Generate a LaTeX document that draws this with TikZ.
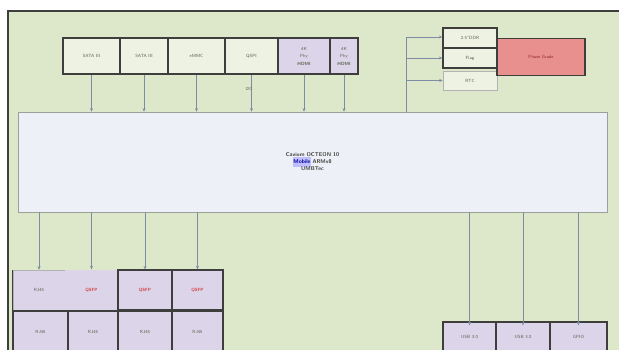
\documentclass[tikz,border=0pt]{standalone}
\usetikzlibrary{arrows.meta}
\definecolor{bggreen}{HTML}{DDE7CA}
\definecolor{cellg}{HTML}{EEF2E2}
\definecolor{cellp}{HTML}{DCD5EA}
\definecolor{cpufill}{HTML}{EEF0F7}
\definecolor{redbox}{HTML}{E8908E}
\definecolor{arrc}{HTML}{7C8DA3}
\definecolor{framec}{HTML}{3E3E3C}
\definecolor{txtc}{HTML}{55604A}
\definecolor{redtxt}{HTML}{D23A3A}
\tikzset{
  cell/.style={draw=framec, line width=1.2pt, inner sep=0pt, align=center,
     font=\sffamily\fontsize{4.5}{5.5}\selectfont, text=txtc},
  gcell/.style={cell, fill=cellg},
  pcell/.style={cell, fill=cellp},
  arr/.style={draw=arrc, line width=0.8pt, -{Stealth[length=3.5pt,width=3pt]}},
}
\begin{document}
\begin{tikzpicture}[x=1pt,y=-1pt]
\useasboundingbox (0,0) rectangle (619,350);
\fill[white] (0,0) rectangle (619,350);
\draw[fill=bggreen, draw=framec, line width=1.8pt] (8,11) rectangle (630,360);
% top strip
\node[gcell, minimum width=57pt, minimum height=36pt] (s1) at (91.5,56) {SATA III};
\node[gcell, minimum width=48pt, minimum height=36pt] (s2) at (144,56) {SATA III};
\node[gcell, minimum width=57pt, minimum height=36pt] (s3) at (196.5,56) {eMMC};
\node[gcell, minimum width=53pt, minimum height=36pt] (s4) at (251.5,56) {QSPI};
\node[pcell, minimum width=52pt, minimum height=36pt] (s5) at (304,56) {4K\\[2pt]Phy\\[2pt]\textbf{HDMI}};
\node[pcell, minimum width=28pt, minimum height=36pt] (s6) at (344,56) {4K\\[2pt]Phy\\[2pt]\textbf{HDMI}};
% CPU
\node[draw=framec!50, line width=0.6pt, fill=cpufill, minimum width=589pt, minimum height=100pt,
  align=center, font=\sffamily\bfseries\fontsize{5.5}{7}\selectfont, text=framec] (cpu) at (312.5,162)
  {Cavium OCTEON 10\\\colorbox{blue!25}{\kern-3pt\textcolor{blue!60!black}{Mobile}\kern-3pt} ARMv8\\UMBTec};
% arrows top
\foreach \s in {s1,s2,s3,s4,s5,s6} \draw[arr] (\s.south) -- (\s.south |- cpu.north);
\node[font=\sffamily\fontsize{4.5}{5}\selectfont, text=txtc] (lbl) at (249,89) {I2C};
% right side boxes
\node[gcell, minimum width=54pt, minimum height=20pt] (r1) at (470,38) {2.5"DDR};
\node[gcell, minimum width=54pt, minimum height=20pt] (r2) at (470,58) {Flag};
\node[cell, draw=framec!40, line width=0.6pt, fill=cellg, minimum width=54pt, minimum height=19pt] (r3) at (470,80.5) {RTC};
\node[draw=framec, line width=1.2pt, fill=redbox, minimum width=88pt, minimum height=37pt,
  font=\sffamily\fontsize{4.5}{5}\selectfont, text=redtxt!70!black] (red) at (541,57) {Phase Grade};
\coordinate (jt) at (406,37);
\draw[draw=arrc, line width=0.8pt] (cpu.north -| jt) -- (jt);
\draw[arr] (jt) -- (r1.west |- jt);
\draw[arr] (jt |- r2.west) -- (r2.west);
\draw[arr] (jt |- r3.west) -- (r3.west);
% bottom left block
\node[pcell, draw=framec!40, line width=0.5pt, minimum width=52pt, minimum height=40pt] (b1) at (39,290) {RJ45};
\node[pcell, draw=none, minimum width=53pt, minimum height=40pt, text=redtxt, font=\sffamily\bfseries\fontsize{4.5}{5}\selectfont] (b2) at (91.5,290) {QSFP};
\node[pcell, minimum width=54pt, minimum height=40pt, text=redtxt, font=\sffamily\bfseries\fontsize{4.5}{5}\selectfont] (b3) at (145,290) {QSFP};
\node[pcell, minimum width=51pt, minimum height=40pt, text=redtxt, font=\sffamily\bfseries\fontsize{4.5}{5}\selectfont] (b4) at (197.5,290) {QSFP};
\draw[framec, line width=1.2pt] (b1.south west) -- (b1.north west);
\node[pcell, minimum width=55pt, minimum height=42pt] (c1) at (40.5,332) {RJ45};
\node[pcell, minimum width=50pt, minimum height=42pt] (c2) at (93,332) {RJ45};
\node[pcell, minimum width=54pt, minimum height=42pt] (c3) at (145,332) {RJ45};
\node[pcell, minimum width=51pt, minimum height=42pt] (c4) at (197.5,332) {RJ45};
\foreach \b in {b1,b2,b3,b4} \draw[arr] (\b.north |- cpu.south) -- (\b.north);
% bottom right
\node[pcell, minimum width=53pt, minimum height=30pt] (u1) at (469.5,337) {USB 3.0};
\node[pcell, minimum width=54pt, minimum height=30pt] (u2) at (523,337) {USB 3.0};
\node[pcell, minimum width=57pt, minimum height=30pt] (u3) at (578.5,337) {GPIO};
\foreach \u in {u1,u2,u3} \draw[arr] (\u.north |- cpu.south) -- ([yshift=-4pt]\u.north);
\end{tikzpicture}
\end{document}
